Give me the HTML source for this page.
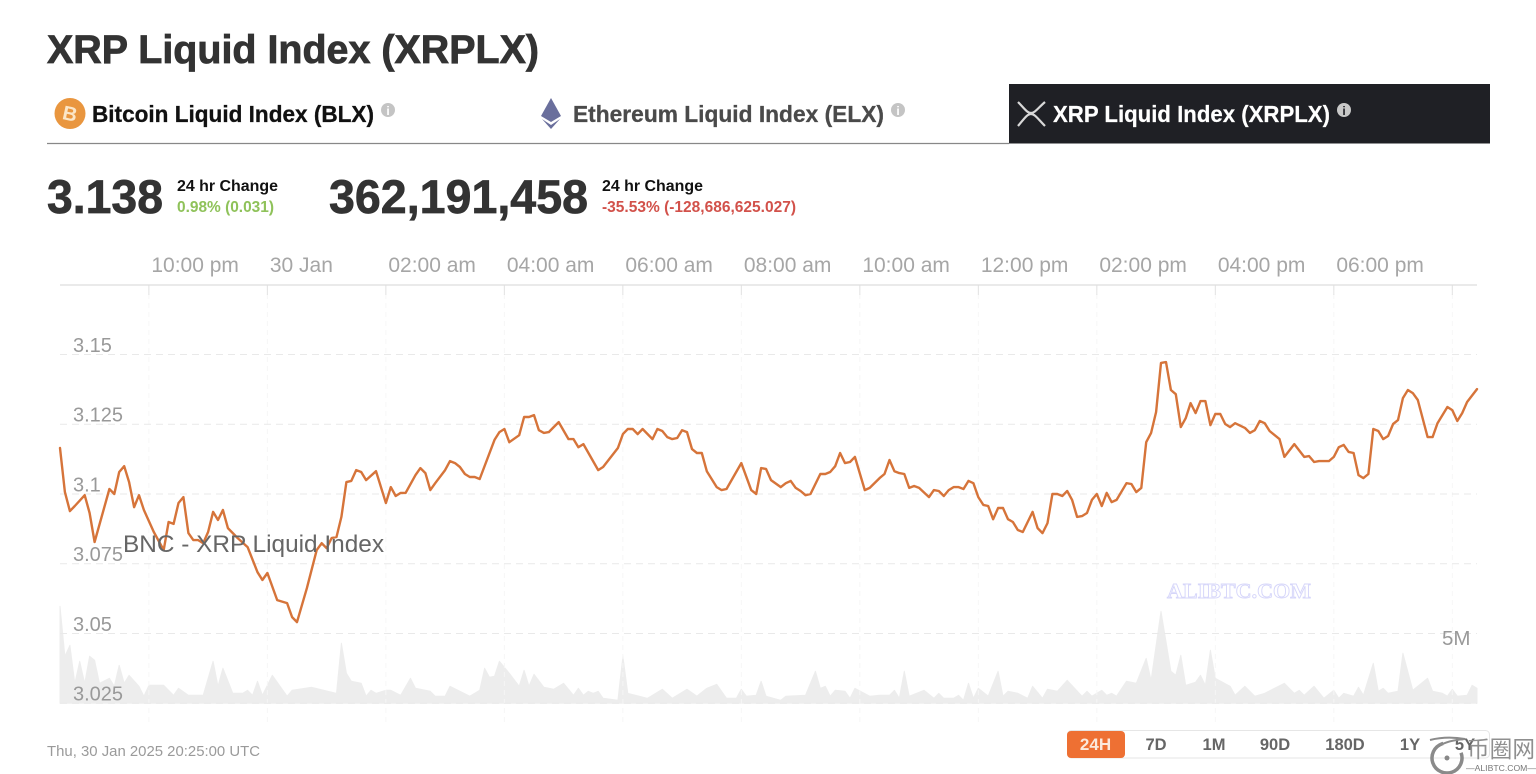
<!DOCTYPE html>
<html lang="en">
<head>
<meta charset="utf-8">
<title>XRP Liquid Index (XRPLX)</title>
<style>
html,body{margin:0;padding:0;background:#fff;width:1536px;height:774px;overflow:hidden}
svg{display:block;font-family:"Liberation Sans",sans-serif}
.b{font-weight:700}
</style>
</head>
<body>
<svg id="page" xmlns="http://www.w3.org/2000/svg" width="1536" height="774" viewBox="0 0 1536 774">
  <rect x="0" y="0" width="1536" height="774" fill="#fff"/>
  <text class="b" x="47" y="63" font-size="40" fill="#333" stroke="#333" stroke-width="0.8" textLength="492" lengthAdjust="spacingAndGlyphs">XRP Liquid Index (XRPLX)</text>

  <g>
    <line x1="47" y1="143.5" x2="1009" y2="143.5" stroke="#888" stroke-width="1.2"/>
    <g>
      <circle cx="70" cy="113.5" r="15.5" fill="#e9963f"/>
      <text class="b" x="70" y="120.5" font-size="20" fill="#fbe6c8" text-anchor="middle" transform="rotate(12 70 113.5)">B</text>
      <text class="b" x="92" y="122" font-size="23" fill="#111" stroke="#111" stroke-width="0.3" textLength="282" lengthAdjust="spacingAndGlyphs">Bitcoin Liquid Index (BLX)</text>
      <circle cx="388" cy="110" r="7" fill="#c4c4c4"/>
      <text class="b" x="388" y="115" font-size="12" fill="#fff" text-anchor="middle">i</text>
    </g>
    <g>
      <polygon points="551,98 561,116 551,122 541,116" fill="#6a6f9c"/>
      <polygon points="551,125 560,119 551,129 542,119" fill="#6a6f9c"/>
      <text class="b" x="573" y="122" font-size="23" fill="#4a4a4a" stroke="#4a4a4a" stroke-width="0.3" textLength="311" lengthAdjust="spacingAndGlyphs">Ethereum Liquid Index (ELX)</text>
      <circle cx="898" cy="110" r="7" fill="#c4c4c4"/>
      <text class="b" x="898" y="115" font-size="12" fill="#fff" text-anchor="middle">i</text>
    </g>
    <g>
      <rect x="1009" y="84" width="481" height="59.5" fill="#1f2025"/>
      <path d="M1018 102 C1024 108 1027 113 1031 113 C1035 113 1038 108 1045 102 M1018 126 C1024 119 1027 114 1031 114 C1035 114 1038 119 1045 126" fill="none" stroke="#d8d8d8" stroke-width="2.2"/>
      <text class="b" x="1053" y="122" font-size="23" fill="#fff" stroke="#fff" stroke-width="0.2" textLength="277" lengthAdjust="spacingAndGlyphs">XRP Liquid Index (XRPLX)</text>
      <circle cx="1344" cy="110" r="7" fill="#c8c8c8"/>
      <text class="b" x="1344" y="115" font-size="12" fill="#1f2025" text-anchor="middle">i</text>
    </g>
  </g>

  <g>
    <text class="b" x="47" y="213" font-size="47" fill="#333" stroke="#333" stroke-width="0.7" textLength="116" lengthAdjust="spacingAndGlyphs">3.138</text>
    <text class="b" x="177" y="191" font-size="16" fill="#111" textLength="101" lengthAdjust="spacingAndGlyphs">24 hr Change</text>
    <text class="b" x="177" y="212" font-size="16" fill="#8fc25a" textLength="97" lengthAdjust="spacingAndGlyphs">0.98% (0.031)</text>
    <text class="b" x="329" y="213" font-size="47" fill="#333" stroke="#333" stroke-width="0.7" textLength="259" lengthAdjust="spacingAndGlyphs">362,191,458</text>
    <text class="b" x="602" y="191" font-size="16" fill="#111" textLength="101" lengthAdjust="spacingAndGlyphs">24 hr Change</text>
    <text class="b" x="602" y="212" font-size="16" fill="#d2514a" textLength="194" lengthAdjust="spacingAndGlyphs">-35.53% (-128,686,625.027)</text>
  </g>

  <g id="chart"></g>

  <text x="123" y="552" font-size="24" fill="#666" textLength="261" lengthAdjust="spacingAndGlyphs">BNC - XRP Liquid Index</text>
  <text x="1442" y="645" font-size="20.5" fill="#999">5M</text>
  <text class="b" x="1167" y="598" font-size="21" fill="#fff" stroke="#d6d6fa" stroke-width="0.9" style="font-family:'Liberation Serif',serif" textLength="144" lengthAdjust="spacingAndGlyphs">ALIBTC.COM</text>

  <text x="47" y="756" font-size="15" fill="#9a9a9a" textLength="213" lengthAdjust="spacingAndGlyphs">Thu, 30 Jan 2025 20:25:00 UTC</text>

  <g>
    <rect x="1067.5" y="730.5" width="422" height="27.5" rx="4" fill="#fff" stroke="#e6e6e6"/>
    <rect x="1067" y="731" width="58" height="27" rx="4" fill="#ee7033"/>
    <text class="b" x="1095.5" y="750" font-size="17" fill="#fbe9dc" text-anchor="middle">24H</text>
    <text class="b" x="1156" y="750" font-size="16.5" fill="#666" text-anchor="middle">7D</text>
    <text class="b" x="1214" y="750" font-size="16.5" fill="#666" text-anchor="middle">1M</text>
    <text class="b" x="1275" y="750" font-size="16.5" fill="#666" text-anchor="middle">90D</text>
    <text class="b" x="1345" y="750" font-size="16.5" fill="#666" text-anchor="middle">180D</text>
    <text class="b" x="1410" y="750" font-size="16.5" fill="#666" text-anchor="middle">1Y</text>
    <text class="b" x="1465" y="750" font-size="16.5" fill="#666" text-anchor="middle">5Y</text>
  </g>

  <g>
    <path d="M1430 740 C1442 737 1453 737 1465 739 C1453 740 1445 742 1439 746" fill="none" stroke="#8a8a8a" stroke-width="2"/>
    <circle cx="1447" cy="758" r="15" fill="none" stroke="#8a8a8a" stroke-width="3.5" stroke-dasharray="72 22" transform="rotate(-20 1447 758)"/>
    <circle cx="1447" cy="758" r="2.5" fill="#888"/>
    <text x="1467" y="757" font-size="23" fill="#8f8f8f" style="font-family:'Liberation Sans','Noto Sans CJK SC',sans-serif" textLength="68" lengthAdjust="spacingAndGlyphs">币圈网</text>
    <text x="1466" y="771" font-size="8.5" fill="#777" textLength="70" lengthAdjust="spacingAndGlyphs">—ALIBTC.COM—</text>
  </g>
</svg>

<script>
// 5-minute bar numbers (0 = 20:30 on 29 Jan, 287 = 20:25 on 30 Jan) for each price reading
const priceBars = [
  0,1,2,3,5,6,7,10,11,12,
  13,14,15,16,17,19,21,22,23,24,
  25,26,27,28,29,30,31,32,33,34,
  36,38,40,41,42,44,46,47,48,50,
  52,53,54,55,56,57,58,59,60,61,
  62,64,66,67,68,69,70,72,73,74,
  75,76,78,79,80,81,82,83,84,85,
  88,89,90,91,93,94,95,96,97,98,
  99,100,101,103,104,105,106,109,110,113,
  114,115,116,117,118,120,121,122,123,124,
  125,126,127,128,129,130,131,133,134,135,
  138,140,141,142,143,144,146,147,148,149,
  150,151,152,154,155,156,157,158,159,160,
  161,163,164,166,167,168,169,170,171,172,
  173,174,176,177,178,179,180,181,182,183,
  184,185,186,187,188,189,190,191,192,193,
  194,195,197,198,199,200,201,202,203,204,
  205,206,207,208,209,210,211,212,213,214,
  216,217,218,219,220,221,222,223,224,225,
  226,227,228,229,230,231,232,233,234,235,
  236,237,238,240,241,242,243,244,245,247,
  248,250,252,253,254,255,257,258,259,260,
  261,262,263,264,265,266,267,268,269,270,
  271,272,273,274,275,277,278,279,281,282,
  283,284,285,287
];
const prices = [
  3.1165,3.1007,3.0939,3.0957,3.0996,3.0932,3.0828,3.1018,3.1,3.1079,
  3.11,3.1043,3.0953,3.0996,3.0943,3.0864,3.0799,3.09,3.0893,3.0968,
  3.0989,3.086,3.0835,3.0835,3.0824,3.0864,3.0936,3.0907,3.0943,3.0878,
  3.0842,3.081,3.072,3.0692,3.0717,3.062,3.0609,3.0559,3.0541,3.0663,
  3.0799,3.0824,3.0806,3.0842,3.0846,3.0918,3.1043,3.1047,3.1086,3.1079,
  3.105,3.1082,3.0968,3.1025,3.0993,3.1004,3.1004,3.1068,3.1093,3.1075,
  3.1014,3.1039,3.1086,3.1118,3.1111,3.1097,3.1072,3.1061,3.1061,3.1054,
  3.1194,3.1222,3.1233,3.1186,3.1211,3.1276,3.1276,3.1283,3.1229,3.1219,
  3.1222,3.124,3.1258,3.1197,3.1197,3.1168,3.1179,3.1086,3.1097,3.1165,
  3.1215,3.1233,3.1233,3.1215,3.1233,3.1197,3.1233,3.1226,3.1204,3.1197,
  3.1201,3.1229,3.1222,3.1161,3.1147,3.1147,3.1082,3.1025,3.1014,3.1018,
  3.1111,3.1014,3.1,3.1093,3.109,3.105,3.1025,3.1039,3.1047,3.1022,
  3.1011,3.0996,3.1,3.1072,3.1072,3.1079,3.11,3.1147,3.1111,3.1115,
  3.1133,3.1014,3.1022,3.1057,3.1072,3.1122,3.1082,3.1075,3.1072,3.1022,
  3.1029,3.1022,3.0989,3.1014,3.1011,3.0993,3.1014,3.1025,3.1025,3.1018,
  3.1047,3.1039,3.0989,3.0961,3.0957,3.091,3.095,3.095,3.091,3.09,
  3.0871,3.0864,3.0936,3.0878,3.086,3.0896,3.1,3.1,3.0993,3.1011,
  3.0979,3.0918,3.0921,3.0932,3.0979,3.1,3.0957,3.1004,3.0971,3.0979,
  3.1039,3.1036,3.1007,3.1022,3.1186,3.1219,3.1294,3.147,3.1473,3.1373,
  3.1358,3.124,3.1272,3.1326,3.129,3.1333,3.1333,3.1247,3.1287,3.1287,
  3.1251,3.124,3.1254,3.1237,3.1219,3.1229,3.1262,3.1254,3.1226,3.1197,
  3.1133,3.1179,3.1133,3.1136,3.1115,3.1118,3.1118,3.1133,3.1168,3.1176,
  3.1151,3.1147,3.1068,3.1057,3.1072,3.1233,3.1226,3.1197,3.1208,3.1251,
  3.1265,3.1344,3.1373,3.1362,3.1337,3.1204,3.1204,3.1254,3.1312,3.1301,
  3.1262,3.129,3.133,3.1376
];
// Volume readings, in millions, with their 5-minute bar numbers
const volumeBars = [
  0,1,2,3,4,5,6,7,8,10,
  11,12,13,14,16,17,18,21,23,24,
  26,29,31,32,33,35,37,38,39,40,
  41,43,46,47,51,56,57,58,59,61,
  62,63,64,66,67,69,71,72,75,76,
  78,79,83,85,86,87,88,89,91,93,
  94,95,96,98,100,102,104,105,106,107,
  108,109,110,113,114,115,119,122,124,127,
  129,131,133,135,137,138,139,141,142,143,
  146,147,151,153,154,155,156,157,159,160,
  161,164,166,168,169,170,171,172,175,177,
  178,179,181,182,183,184,185,186,188,190,
  191,192,194,196,197,199,200,202,204,207,
  208,209,211,212,213,214,216,218,220,221,
  223,225,226,227,228,230,231,232,233,234,
  237,238,240,242,244,248,250,251,252,254,
  256,258,259,260,262,263,264,266,267,268,
  269,271,272,274,277,278,280,281,282,283,
  285,286,287
];
const volumes = [
  8.66,4.2,5.18,1.79,3.75,1.79,4.2,3.84,1.79,2.23,
  1.52,3.39,1.79,2.5,1.52,.63,1.61,1.61,.71,1.34,
  .71,.71,3.75,1.52,3.13,.89,.89,1.16,.71,1.96,
  .71,2.5,.63,1.16,1.43,.89,5.36,2.68,1.96,1.79,
  .63,1.16,.89,1.16,1.16,.71,2.23,1.34,1.07,.63,
  .63,1.52,.63,1.16,3.13,2.32,2.41,3.75,2.68,1.52,
  2.95,1.52,2.59,1.43,1.25,1.79,.71,1.34,.71,1.07,
  .89,1.07,.45,.27,4.2,.89,.45,1.25,.45,1.25,
  .63,1.34,1.7,.45,.45,1.25,.63,.71,1.96,.63,
  .27,.63,.71,2.86,1.34,1.52,.63,1.16,1.07,.45,
  1.34,.63,.71,.71,1.16,.45,2.86,.63,1.16,.45,
  .89,.45,.45,.71,.27,1.79,.45,1.34,.63,2.86,
  .63,1.07,.89,.45,1.52,.45,1.25,1.07,2.05,.63,
  1.07,.63,1.16,.71,.89,.63,1.96,1.79,4.02,2.05,
  8.21,2.86,2.5,4.29,1.61,1.88,2.5,1.61,4.73,2.23,
  1.52,.71,1.52,.63,.89,1.79,.89,1.16,.71,1.52,
  .45,1.16,.45,.89,.63,1.43,.71,3.57,1.07,1.34,
  .89,1.07,4.46,1.16,2.23,1.07,.89,.63,1.25,.63,
  .71,1.61,1.34
];
const xTickBars = [18,42,66,90,114,138,162,186,210,234,258,282];
const xTickLabels = ["10:00 pm","30 Jan","02:00 am","04:00 am","06:00 am","08:00 am","10:00 am","12:00 pm","02:00 pm","04:00 pm","06:00 pm",""];
const yTickValues = [3.15,3.125,3.1,3.075,3.05,3.025];
const yTickLabels = ["3.15","3.125","3.1","3.075","3.05","3.025"];

const SVG_NS = "http://www.w3.org/2000/svg";
const chart = document.getElementById("chart");
const plotLeft = 60, plotRight = 1477, plotTop = 285, plotBottom = 703.3, lastBar = 287;
const pricePerPixel = 0.025 / 69.75;
const volumePixelsPerMillion = 11.2;

function xScale(bar) { return plotLeft + bar * (plotRight - plotLeft) / lastBar; }
function yScale(price) { return plotBottom - (price - 3.025) / pricePerPixel; }
function volumeScale(millions) { return plotBottom - millions * volumePixelsPerMillion; }
function make(tag, attrs) {
  const node = document.createElementNS(SVG_NS, tag);
  Object.keys(attrs).forEach(function (k) { node.setAttribute(k, attrs[k]); });
  chart.appendChild(node);
  return node;
}

// volume area
let volumePath = "M" + xScale(volumeBars[0]).toFixed(1) + " " + plotBottom;
volumeBars.forEach(function (bar, i) {
  volumePath += "L" + xScale(bar).toFixed(1) + " " + volumeScale(volumes[i]).toFixed(1);
});
volumePath += "L" + xScale(volumeBars[volumeBars.length - 1]).toFixed(1) + " " + plotBottom + "Z";
const volumeArea = make("path", { d: volumePath, fill: "#ededed", stroke: "#ededed", "stroke-width": 1, "stroke-linejoin": "round" });



// vertical grid lines and top-axis ticks
xTickBars.forEach(function (bar, i) {
  const gridLine = make("line", { x1: xScale(bar), x2: xScale(bar), y1: plotTop, y2: 722, stroke: "#f6f6f6", "stroke-dasharray": "5 4" });
  
  
  const tick = make("line", { x1: xScale(bar), x2: xScale(bar), y1: plotTop, y2: plotTop + 10, stroke: "#e2e2e2" });
  
  
  const label = make("text", { x: xScale(bar) + 2.5, y: 272, "font-size": 21, fill: "#a6a6a6" });
  
  
  label.textContent = xTickLabels[i];
});

// top axis line
const axisLine = make("line", { x1: plotLeft, x2: plotRight, y1: plotTop, y2: plotTop, stroke: "#dedede", "stroke-width": 1.2 });



// horizontal grid lines
yTickValues.forEach(function (value) {
  const gridLine = make("line", { x1: plotLeft, x2: plotRight, y1: yScale(value), y2: yScale(value), stroke: "#e9e9e9", "stroke-dasharray": "7 5" });
  
  
});

// price line
const pricePoints = priceBars.map(function (bar, i) {
  return xScale(bar).toFixed(1) + "," + yScale(prices[i]).toFixed(1);
}).join(" ");
const priceLine = make("polyline", { points: pricePoints, fill: "none", stroke: "#d6743a", "stroke-width": 2.4, "stroke-linejoin": "round", "stroke-linecap": "round" });



// y axis labels
yTickValues.forEach(function (value, i) {
  const label = make("text", { x: 73, y: yScale(value) - 2.6, "font-size": 20, fill: "#999" });
  
  
  label.textContent = yTickLabels[i];
});
</script>
</body>
</html>
